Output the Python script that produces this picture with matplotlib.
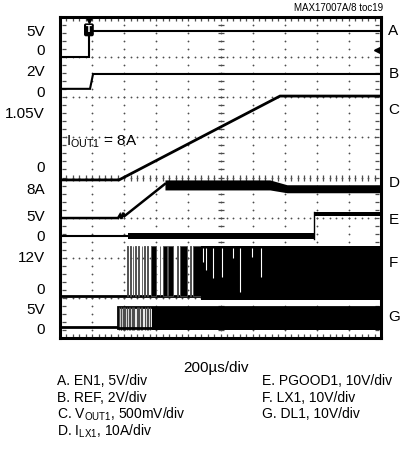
import numpy as np
import matplotlib.pyplot as plt

# time axis in microseconds (200us/div, 10 div), vertical axis in screen divisions (8 div)
T_END = 2000

# A. EN1
a_t = [0, 180, 180, T_END]
a_y = [7.01, 7.01, 7.66, 7.66]
# B. REF
b_t = [0, 187, 206, T_END]
b_y = [6.21, 6.21, 6.58, 6.58]
# C. VOUT1 soft-start ramp
c_t = [0, 368, 1371, T_END]
c_y = [3.94, 3.94, 6.03, 6.03]
# D. ILX1 ramp, then inductor ripple band
d_t = [0, 362, 374, 383, 393, 402, 654]
d_y = [2.99, 2.99, 3.07, 2.97, 3.12, 3.04, 3.84]
d_band_t = [654, 1308, 1414, T_END]
d_band_hi = [3.94, 3.94, 3.82, 3.82]
d_band_lo = [3.69, 3.69, 3.62, 3.62]
# E. PGOOD1
e_t = [0, 424]
e_y = [2.54, 2.54]
e_band_t = [424, 1582, 1582, T_END]
e_band_hi = [2.61, 2.61, 3.14, 3.14]
e_band_lo = [2.47, 2.47, 3.03, 3.03]
# F. LX1: baseline, isolated pulses (start, width), continuous switching
f_low, f_high = 1.05, 2.29
f_pulses = [(420, 5), (436, 5), (452, 5), (467, 5), (486, 6), (508, 6), (523, 6),
            (539, 12), (570, 31), (620, 6), (639, 25), (673, 31), (726, 9),
            (745, 44), (807, 9), (826, 50)]
f_solid = (878, T_END)
f_gaps_t = [891, 910, 953, 1009, 1078, 1121, 1196, 1252]
f_gaps_lo = [1.9, 1.7, 1.5, 1.52, 2.0, 1.15, 2.02, 1.52]
# G. DL1
g_low, g_high, g_bottom = 0.27, 0.77, 0.20
g_step = 362
g_pulses = [370, 377, 383, 391, 399, 406, 420, 428, 436, 446, 455, 463, 477, 485,
            492, 503, 514, 527, 539, 550, 561]
g_solid = (573, T_END)

# channel labels
left_pos = [7.63, 7.16, 6.63, 6.11, 5.59, 4.24, 3.69, 3.02, 2.52, 1.99, 1.20, 0.70, 0.20]
left_text = ['5V', '0', '2V', '0', '1.05V', '0', '8A', '5V', '0', '12V', '0', '5V', '0']
right_pos = [7.66, 6.58, 5.69, 3.86, 2.94, 1.87, 0.52]
right_text = ['A', 'B', 'C', 'D', 'E', 'F', 'G']

legend_left = ['A. EN1, 5V/div', 'B. REF, 2V/div',
               r'C. V$_{\mathregular{OUT1}}$, 500mV/div', r'D. I$_{\mathregular{LX1}}$, 10A/div']
legend_right = ['E. PGOOD1, 10V/div', 'F. LX1, 10V/div', 'G. DL1, 10V/div']

plt.rcParams['font.family'] = ['Liberation Sans', 'DejaVu Sans']
plt.rcParams['mathtext.fontset'] = 'custom'
plt.rcParams['mathtext.rm'] = 'Liberation Sans'

fig = plt.figure(figsize=(4, 4.61), dpi=100)
ax = fig.add_axes([0.15, 0.2668, 0.8025, 0.6963])
ax.set_xlim(0, T_END)
ax.set_ylim(0, 8)
ax.set_xticks([])
ax.set_yticks([])
for s in ax.spines.values():
    s.set_linewidth(2.2)
    s.set_zorder(5)

# graticule: dotted grid, center cross and edge ticks
dx = T_END / 50
xs_minor = np.arange(51) * dx
ys_minor = np.arange(41) * 0.2
grat = dict(ls='none', c='0.3', zorder=2)
for kx in range(1, 10):
    ax.plot(np.full(41, kx * 200.0), ys_minor, marker='o', ms=1.3, mew=0, **grat)
for ky in range(1, 8):
    ax.plot(xs_minor, np.full(51, float(ky)), marker='o', ms=1.3, mew=0, **grat)
ax.plot(np.full(41, 1000.0), ys_minor, marker='_', ms=4.5, mew=0.9, **grat)
ax.plot(xs_minor, np.full(51, 4.0), marker='|', ms=4.5, mew=0.9, **grat)
ax.plot(xs_minor, np.full(51, 7.95), marker='|', ms=3.5, mew=0.9, **grat)
ax.plot(xs_minor, np.full(51, 0.05), marker='|', ms=3.5, mew=0.9, **grat)
ax.plot(np.full(41, 25.0), ys_minor, marker='_', ms=3.5, mew=0.9, **grat)
ax.plot(np.full(41, 1975.0), ys_minor, marker='_', ms=3.5, mew=0.9, **grat)

k = dict(color='black', solid_joinstyle='miter', zorder=3)
ax.plot(a_t, a_y, lw=1.5, **k)
ax.plot(b_t, b_y, lw=1.5, **k)
ax.plot(c_t, c_y, lw=2.0, **k)
ax.plot(d_t, d_y, lw=1.8, **k)
ax.fill_between(d_band_t, d_band_lo, d_band_hi, color='black', lw=0, zorder=3)
ax.plot(e_t, e_y, lw=1.5, **k)
ax.fill_between(e_band_t, e_band_lo, e_band_hi, color='black', lw=0, zorder=3)
ax.plot([e_band_t[1]] * 2, [e_band_lo[1], e_band_hi[2]], lw=1.0, **k)

# LX1
ax.plot([0, T_END], [f_low, f_low], lw=2.0, **k)
ax.broken_barh(f_pulses, (f_low, f_high - f_low), color='black', lw=0.6, edgecolor='0.3', zorder=3)
ax.broken_barh([(f_solid[0], f_solid[1] - f_solid[0])], (f_low - 0.1, f_high - f_low + 0.1),
               color='black', lw=0, zorder=3)
ax.vlines(f_gaps_t, f_gaps_lo, f_high - 0.05, colors='white', lw=0.8, zorder=4)

# DL1
ax.plot([0, g_step, g_step, T_END], [g_low, g_low, g_high, g_high], lw=2.0, **k)
ax.vlines(g_pulses, g_bottom, g_high, colors='0.3', lw=0.9, zorder=3)
ax.plot([g_step, T_END], [g_bottom + 0.05] * 2, lw=2.0, **k)
ax.broken_barh([(g_solid[0], g_solid[1] - g_solid[0])], (g_bottom, g_high - g_bottom),
               color='black', lw=0, zorder=3)

# trigger and ground markers
ax.text(180, 7.68, 'T', color='white', fontsize=6, fontweight='bold', ha='center', va='center',
        family='DejaVu Sans', zorder=6,
        bbox=dict(boxstyle='round,pad=0.15', fc='black', ec='black'))
ax.plot(180, 7.93, marker='v', ms=5, c='black', clip_on=False, zorder=6)
ax.plot(1975, 7.18, marker='<', ms=4, c='black', zorder=6)

ax.text(35, 4.9, r'I$_{\mathregular{OUT1}}$ = 8A', fontsize=11, ha='left', va='center')

for y, s in zip(left_pos, left_text):
    ax.annotate(s, xy=(-0.047, y), xycoords=('axes fraction', 'data'),
                ha='right', va='center', fontsize=11, annotation_clip=False)
for y, s in zip(right_pos, right_text):
    ax.annotate(s, xy=(1.023, y), xycoords=('axes fraction', 'data'),
                ha='left', va='center', fontsize=11, annotation_clip=False)

fig.text(0.9575, 0.982, 'MAX17007A/8 toc19', ha='right', va='center', fontsize=7)
fig.text(0.54, 1 - 368 / 461, '200\u00b5s/div', ha='center', va='center', fontsize=11)
for i, s in enumerate(legend_left):
    fig.text(0.1425, 1 - (381 + i * 16.7) / 461, s, ha='left', va='center', fontsize=10)
for i, s in enumerate(legend_right):
    fig.text(0.655, 1 - (381 + i * 16.7) / 461, s, ha='left', va='center', fontsize=10)

fig.savefig('out.png', dpi=100)
